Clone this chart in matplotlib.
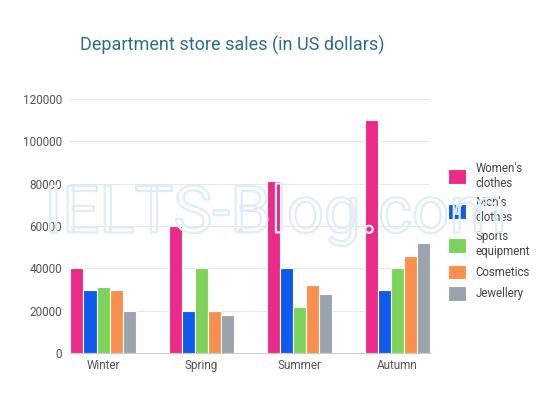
import numpy as np
import matplotlib
matplotlib.use("Agg")
import matplotlib.pyplot as plt
import matplotlib.patheffects as pe

# ─────────────────────────────────────────────
# Dados do gráfico
# ─────────────────────────────────────────────
seasons = ["Winter", "Spring", "Summer", "Autumn"]
series_names = ["Women's\nclothes", "Men's\nclothes", "Sports\nequipment",
                "Cosmetics", "Jewellery"]
womens = [40000, 60000, 81000, 110000]
mens = [30000, 20000, 40000, 30000]
sports = [31000, 40000, 22000, 40000]
cosmetics = [30000, 20000, 32000, 46000]
jewellery = [20000, 18000, 28000, 52000]
yticks = [0, 20000, 40000, 60000, 80000, 100000, 120000]

colors = ["#EC2A87", "#0F5BEF", "#7DD35A", "#F98F4C", "#9AA4AE"]

plt.rcParams["font.family"] = ["Roboto", "DejaVu Sans"]

fig = plt.figure(figsize=(5.4, 4.05), dpi=100)
ax = fig.add_axes([0.13, 0.128, 0.667, 0.628])

x = np.arange(len(seasons))
bar_w = 0.133
all_series = [womens, mens, sports, cosmetics, jewellery]
for i, (vals, name, col) in enumerate(zip(all_series, series_names, colors)):
    ax.bar(x + (i - 2) * bar_w, vals, width=bar_w, color=col,
           edgecolor="white", linewidth=0.8, label=name, zorder=3)

ax.set_xlim(-0.335, 3.335)
ax.set_ylim(0, 120000)
ax.set_yticks(yticks)
ax.set_yticklabels([str(v) for v in yticks])
ax.set_xticks(x)
ax.set_xticklabels(seasons)
ax.tick_params(axis="both", length=0, labelsize=8.5, colors="#555555")
ax.tick_params(axis="y", pad=6)
ax.tick_params(axis="x", pad=4)
ax.grid(axis="y", color="#E6E8EA", linewidth=0.8, zorder=0)
for s in ["top", "right", "left"]:
    ax.spines[s].set_visible(False)
ax.spines["bottom"].set_color("#CCCCCC")

fig.text(0.148, 0.888, "Department store sales (in US dollars)",
         fontsize=13, color="#2E6E8A", ha="left", va="center")

leg = ax.legend(loc="center left", bbox_to_anchor=(1.02, 0.48), frameon=False,
                fontsize=8.3, handlelength=1.6, handleheight=1.6,
                labelspacing=0.55, handletextpad=0.8, labelcolor="#444444")

# marca d'água (só contorno claro)
fig.text(0.51, 0.47, "IELTS-Blog.com", fontsize=47, color="none",
         ha="center", va="center", zorder=10,
         path_effects=[pe.Stroke(linewidth=1.6, foreground="#DFEDF6")])

plt.savefig("out.png", dpi=100)
plt.close()
